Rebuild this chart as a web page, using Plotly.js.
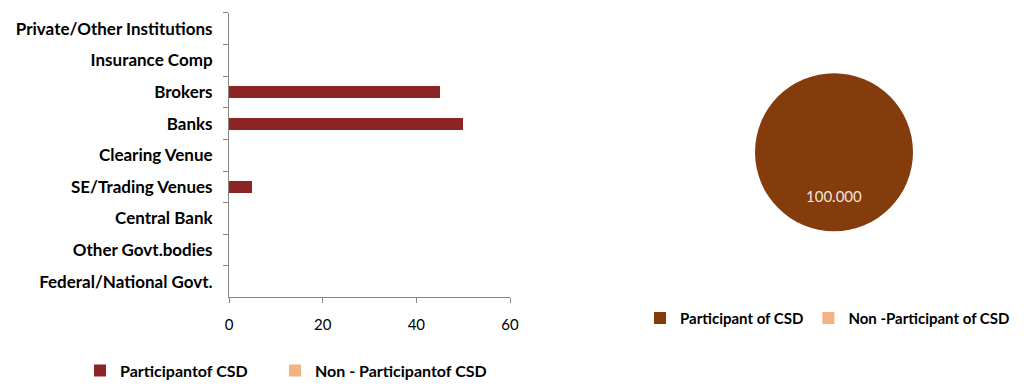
<!DOCTYPE html>
<html>
<head>
<meta charset="utf-8">
<script src="https://cdn.plot.ly/plotly-3.0.1.min.js"></script>
<style>html,body{margin:0;padding:0;background:#fff;}#chart{width:1026px;height:388px;}</style>
</head>
<body>
<div id="chart"></div>
<script>
// Bar chart data (bottom to top as shown)
const categories = ["Federal/National Govt.", "Other Govt.bodies", "Central Bank", "SE/Trading Venues",
  "Clearing Venue", "Banks", "Brokers", "Insurance Comp", "Private/Other Institutions"];
const participantValues = [0, 0, 0, 5, 0, 50, 45, 0, 0];
const nonParticipantValues = [0, 0, 0, 0, 0, 0, 0, 0, 0];
const barSeriesNames = ["Participantof CSD", "Non - Participantof CSD"];
const xTickValues = [0, 20, 40, 60];

// Pie chart data
const pieLabels = ["Participant of CSD", "Non -Participant of CSD"];
const pieValues = [100, 0];

const FONT = "Lato, Liberation Sans, Arial, sans-serif";
const axisColor = "#868686";

const traces = [
  {
    type: "bar", orientation: "h", y: categories, x: participantValues,
    name: barSeriesNames[0], marker: {color: "#8B2424"}, width: 0.38,
    legend: "legend", hoverinfo: "x+y"
  },
  {
    type: "bar", orientation: "h", y: categories, x: nonParticipantValues,
    name: barSeriesNames[1], marker: {color: "#F4B183"}, width: 0.38,
    legend: "legend3", hoverinfo: "x+y"
  },
  {
    type: "pie", labels: pieLabels, values: pieValues, sort: false,
    direction: "clockwise", rotation: 0,
    marker: {colors: ["#843C0C", "#F4B183"], line: {width: 0}},
    textinfo: "none", domain: {x: [755/1026, 913/1026], y: [(388-233)/388, (388-73)/388]},
    legend: "legend2", showlegend: true
  }
];

const pieTotal = pieValues.reduce((a, b) => a + b, 0);
const legendFont = {family: FONT, size: 16, weight: "bold", color: "#000"};

const layout = {
  width: 1026, height: 388,
  margin: {l: 0, r: 0, t: 0, b: 0},
  paper_bgcolor: "#fff", plot_bgcolor: "#fff",
  font: {family: FONT, color: "#000", size: 14},
  barmode: "stack",
  xaxis: {
    domain: [229/1026, 510/1026], range: [0, 60], tickvals: xTickValues,
    showgrid: false, zeroline: false, showline: true, linecolor: axisColor, linewidth: 1,
    ticks: "outside", ticklen: 5, tickcolor: axisColor, ticklabelstandoff: 9,
    tickfont: {family: FONT, size: 15, color: "#000"}, fixedrange: true
  },
  yaxis: {
    domain: [(388-299)/388, (388-13)/388], type: "category",
    showgrid: false, zeroline: false, showline: true, linecolor: axisColor, linewidth: 1,
    ticks: "outside", ticklen: 5, tickcolor: axisColor, tickson: "boundaries",
    ticklabelstandoff: 12,
    tickfont: {family: FONT, size: 17, color: "#000", weight: "bold"}, fixedrange: true
  },
  legend: {
    orientation: "h", x: 80/1026, y: 0.04, xanchor: "left", yanchor: "middle",
    font: legendFont, itemwidth: 30, bgcolor: "rgba(0,0,0,0)"
  },
  legend3: {
    orientation: "h", x: 275/1026, y: 0.04, xanchor: "left", yanchor: "middle",
    font: legendFont, itemwidth: 30, bgcolor: "rgba(0,0,0,0)"
  },
  legend2: {
    orientation: "h", x: 640/1026, y: (388-320)/388, xanchor: "left", yanchor: "middle",
    font: {family: FONT, size: 15, weight: "bold", color: "#000"},
    itemwidth: 30, bgcolor: "rgba(0,0,0,0)"
  },
  annotations: [{
    xref: "paper", yref: "paper", x: 834/1026, y: (388-197)/388,
    xanchor: "center", yanchor: "middle",
    text: (pieValues[0] / pieTotal * 100).toFixed(3),
    showarrow: false, font: {family: FONT, size: 15, color: "#F2E6DC"}
  }],
  showlegend: true
};

Plotly.newPlot("chart", traces, layout, {displayModeBar: false, staticPlot: true});
</script>
</body>
</html>
